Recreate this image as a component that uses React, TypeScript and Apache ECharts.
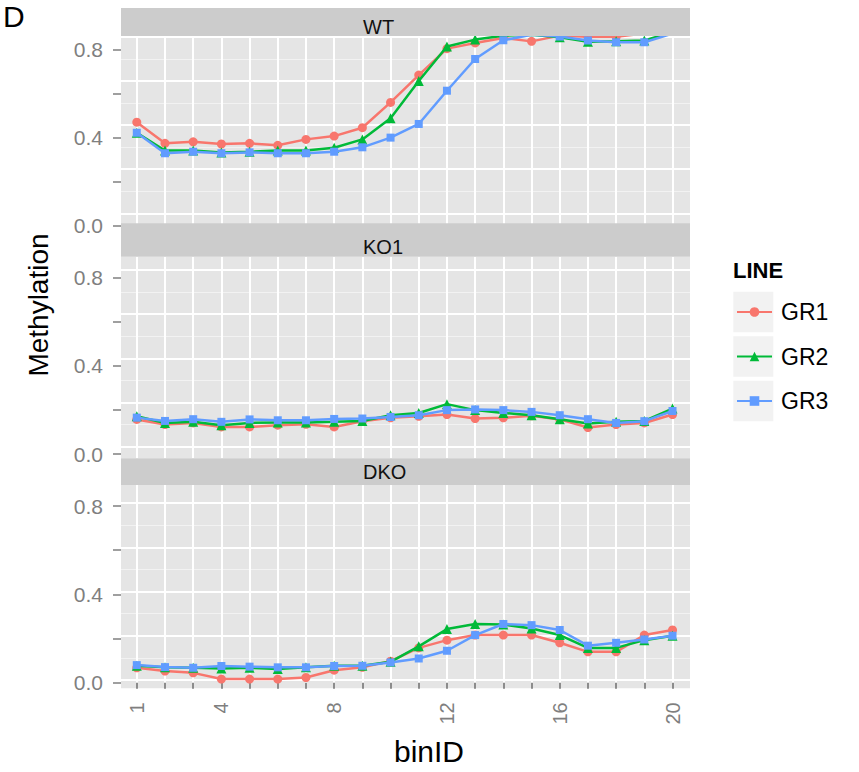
import React, { useEffect, useRef } from "react";
import * as echarts from "echarts";

// ---- data -------------------------------------------------------------
const binIDs = [1, 2, 3, 4, 5, 6, 7, 8, 9, 10, 11, 12, 13, 14, 15, 16, 17, 18, 19, 20];
const xTickLabels = [1, 4, 8, 12, 16, 20];
const yTickValues = [0, 0.2, 0.4, 0.6, 0.8];
const yTickLabels = [0, 0.4, 0.8];
const lineNames = ["GR1", "GR2", "GR3"];
const panelNames = ["WT", "KO1", "DKO"];

const wtGR1 = [0.469, 0.373, 0.38, 0.37, 0.373, 0.364, 0.391, 0.406, 0.444, 0.559, 0.683, 0.803, 0.829, 0.851, 0.836, 0.862, 0.857, 0.857, 0.872, 0.89];
const wtGR2 = [0.421, 0.34, 0.34, 0.331, 0.335, 0.34, 0.34, 0.353, 0.391, 0.487, 0.656, 0.813, 0.844, 0.862, 0.866, 0.855, 0.834, 0.836, 0.84, 0.878];
const wtGR3 = [0.421, 0.328, 0.335, 0.328, 0.332, 0.328, 0.328, 0.335, 0.355, 0.399, 0.461, 0.612, 0.756, 0.841, 0.866, 0.858, 0.84, 0.832, 0.832, 0.871];

const ko1GR1 = [0.157, 0.134, 0.141, 0.123, 0.123, 0.131, 0.135, 0.123, 0.149, 0.164, 0.171, 0.179, 0.161, 0.164, 0.173, 0.157, 0.12, 0.134, 0.141, 0.179];
const ko1GR2 = [0.171, 0.141, 0.146, 0.131, 0.141, 0.143, 0.143, 0.146, 0.15, 0.176, 0.186, 0.226, 0.199, 0.186, 0.176, 0.158, 0.138, 0.146, 0.15, 0.206];
const ko1GR3 = [0.165, 0.15, 0.158, 0.146, 0.157, 0.153, 0.153, 0.159, 0.161, 0.168, 0.176, 0.199, 0.202, 0.199, 0.191, 0.176, 0.158, 0.141, 0.149, 0.195];

const dkoGR1 = [0.068, 0.053, 0.045, 0.017, 0.017, 0.017, 0.024, 0.057, 0.07, 0.098, 0.158, 0.193, 0.216, 0.216, 0.216, 0.181, 0.14, 0.14, 0.216, 0.239];
const dkoGR2 = [0.077, 0.07, 0.068, 0.065, 0.068, 0.062, 0.07, 0.077, 0.077, 0.095, 0.165, 0.243, 0.266, 0.264, 0.246, 0.216, 0.158, 0.158, 0.193, 0.213];
const dkoGR3 = [0.08, 0.071, 0.068, 0.076, 0.073, 0.07, 0.07, 0.076, 0.077, 0.092, 0.11, 0.145, 0.216, 0.266, 0.261, 0.239, 0.168, 0.181, 0.196, 0.213];

const methylation = [
  [wtGR1, wtGR2, wtGR3],
  [ko1GR1, ko1GR2, ko1GR3],
  [dkoGR1, dkoGR2, dkoGR3],
];

// ---- styling & layout -------------------------------------------------
const FONT = "'Liberation Sans', Arial, Helvetica, sans-serif";
const lineColors = ["#F8766D", "#00BA38", "#619CFF"];
const lineSymbols = ["circle", "triangle", "rect"];
const symbolSizes = [9, 10, 8];

const PANEL_LEFT = 121;
const PANEL_WIDTH = 569;
const X_MIN = 0.44;
const X_MAX = 20.62;

// top/bottom: plotting area in px; zeroPx: where the 0.0 tick sits;
// ppu: px per methylation unit; gridZeroPx: lowest major grid line.
const panelLayout = [
  { stripTop: 8, top: 36, bottom: 227, zeroPx: 225.5, ppu: 220.25, gridZeroPx: 213.3, textY: 27 },
  { stripTop: 223.3, top: 256.7, bottom: 458.3, zeroPx: 454.1, ppu: 221.05, gridZeroPx: 446.7, textY: 246.7 },
  { stripTop: 458.3, top: 485, bottom: 688.3, zeroPx: 682.8, ppu: 220.98, gridZeroPx: 680, textY: 472.2 },
];

const LEGEND_LEFT = 736;
const LEGEND_TOP = 300;
const LEGEND_ROW = 24;
const LEGEND_GAP = 20.5;

function buildOption() {
  const grids: any[] = [];
  const xAxes: any[] = [];
  const yAxes: any[] = [];
  const series: any[] = [];
  const graphics: any[] = [];

  panelLayout.forEach((p, i) => {
    const isBottom = i === panelLayout.length - 1;
    const yMax = (p.zeroPx - p.top) / p.ppu;
    const yMin = (p.zeroPx - p.bottom) / p.ppu;
    const shift = (p.zeroPx - p.gridZeroPx) / p.ppu;
    const majors: number[] = [];
    const minors: number[] = [];
    for (let k = 0; k <= 9; k++) {
      const v = +(shift + k * 0.1).toFixed(4);
      if (v < yMin || v > yMax) continue;
      (k % 2 === 0 ? majors : minors).push(v);
    }

    grids.push({
      left: PANEL_LEFT,
      width: PANEL_WIDTH,
      top: p.top,
      height: p.bottom - p.top,
      show: true,
      backgroundColor: "#E5E5E5",
      borderWidth: 0,
      containLabel: false,
      outerBoundsMode: "none",
    });

    xAxes.push({
      type: "value",
      gridIndex: i,
      min: X_MIN,
      max: X_MAX,
      axisLine: { show: false },
      axisTick: {
        show: isBottom,
        customValues: binIDs,
        length: 6,
        lineStyle: { color: "#666666", width: 1.5 },
      },
      axisLabel: {
        show: isBottom,
        customValues: xTickLabels,
        rotate: 90,
        margin: 14,
        color: "#7F7F7F",
        fontSize: 20,
        fontFamily: FONT,
        formatter: (v: number) => String(v),
      },
      splitLine: { show: true, lineStyle: { color: "#FFFFFF", width: 2 } },
    });

    // labelled axis that carries the data
    yAxes.push({
      type: "value",
      gridIndex: i,
      position: "left",
      min: yMin,
      max: yMax,
      axisLine: { show: false },
      axisTick: {
        show: true,
        customValues: yTickValues,
        length: 8,
        lineStyle: { color: "#7F7F7F", width: 1.5 },
      },
      axisLabel: {
        customValues: yTickLabels,
        formatter: (v: number) => v.toFixed(1),
        color: "#7F7F7F",
        fontSize: 21,
        fontFamily: FONT,
        margin: 18,
      },
      splitLine: { show: false },
    });
    // major grid lines
    yAxes.push({
      type: "value",
      gridIndex: i,
      position: "right",
      min: yMin,
      max: yMax,
      axisLine: { show: false },
      axisTick: { show: false, customValues: majors },
      axisLabel: { show: false },
      splitLine: { show: true, lineStyle: { color: "#FFFFFF", width: 2 } },
    });
    // minor grid lines
    yAxes.push({
      type: "value",
      gridIndex: i,
      position: "right",
      min: yMin,
      max: yMax,
      axisLine: { show: false },
      axisTick: { show: false, customValues: minors },
      axisLabel: { show: false },
      splitLine: { show: true, lineStyle: { color: "#F2F2F2", width: 1 } },
    });

    lineNames.forEach((name, j) => {
      series.push({
        type: "line",
        name,
        xAxisIndex: i,
        yAxisIndex: i * 3,
        data: binIDs.map((b, k) => [b, methylation[i][j][k]]),
        symbol: lineSymbols[j],
        symbolSize: symbolSizes[j],
        showSymbol: true,
        clip: true,
        lineStyle: { color: lineColors[j], width: 2.5 },
        itemStyle: { color: lineColors[j] },
        emphasis: { disabled: true },
        z: 2 + j,
      });
    });

    // facet strip
    graphics.push({
      type: "rect",
      z: 20,
      shape: { x: PANEL_LEFT, y: p.stripTop, width: PANEL_WIDTH, height: p.top - p.stripTop },
      style: { fill: "#CCCCCC" },
    });
    graphics.push({
      type: "text",
      z: 21,
      x: 363,
      y: p.textY,
      style: {
        text: panelNames[i],
        fontSize: 20,
        fontFamily: FONT,
        fill: "#111111",
        align: "left",
        textAlign: "left",
        verticalAlign: "middle",
        textVerticalAlign: "middle",
      },
    });
  });

  // legend key backgrounds
  lineNames.forEach((_, j) => {
    const cy = LEGEND_TOP + LEGEND_ROW / 2 + j * (LEGEND_ROW + LEGEND_GAP);
    graphics.push({
      type: "rect",
      z: 0,
      shape: { x: 733.3, y: cy - 20.25, width: 40, height: 40.5 },
      style: { fill: "#F2F2F2" },
    });
  });

  graphics.push(
    {
      type: "text",
      x: 733,
      y: 270.8,
      style: {
        text: "LINE",
        fontSize: 22,
        fontWeight: "bold",
        fontFamily: FONT,
        fill: "#000000",
        align: "left",
        textAlign: "left",
        verticalAlign: "middle",
        textVerticalAlign: "middle",
      },
    },
    {
      type: "text",
      x: 38,
      y: 305,
      rotation: Math.PI / 2,
      style: {
        text: "Methylation",
        fontSize: 28,
        fontFamily: FONT,
        fill: "#000000",
        align: "center",
        textAlign: "center",
        verticalAlign: "middle",
        textVerticalAlign: "middle",
      },
    },
    {
      type: "text",
      x: 429,
      y: 751,
      style: {
        text: "binID",
        fontSize: 30,
        fontFamily: FONT,
        fill: "#000000",
        align: "center",
        textAlign: "center",
        verticalAlign: "middle",
        textVerticalAlign: "middle",
      },
    },
    {
      type: "text",
      x: 3,
      y: 16,
      style: {
        text: "D",
        fontSize: 30,
        fontFamily: FONT,
        fill: "#000000",
        align: "left",
        textAlign: "left",
        verticalAlign: "middle",
        textVerticalAlign: "middle",
      },
    }
  );

  return {
    animation: false,
    backgroundColor: "#FFFFFF",
    textStyle: { fontFamily: FONT },
    grid: grids,
    xAxis: xAxes,
    yAxis: yAxes,
    series,
    legend: {
      orient: "vertical",
      left: LEGEND_LEFT,
      top: LEGEND_TOP,
      padding: 0,
      itemWidth: 35,
      itemHeight: 12,
      itemGap: LEGEND_GAP,
      selectedMode: false,
      data: lineNames,
      textStyle: { fontSize: 23, color: "#000000", lineHeight: LEGEND_ROW, fontFamily: FONT, padding: [0, 0, 0, 4] },
    },
    graphic: { elements: graphics },
  };
}

export default function App() {
  const ref = useRef<HTMLDivElement>(null);
  useEffect(() => {
    if (!ref.current) return;
    const chart = echarts.init(ref.current, null, { renderer: "svg" });
    chart.setOption(buildOption() as any);
    return () => chart.dispose();
  }, []);
  return (
    <div
      ref={ref}
      style={{ position: "fixed", left: 0, top: 0, width: 859, height: 772, background: "#FFFFFF" }}
    />
  );
}
